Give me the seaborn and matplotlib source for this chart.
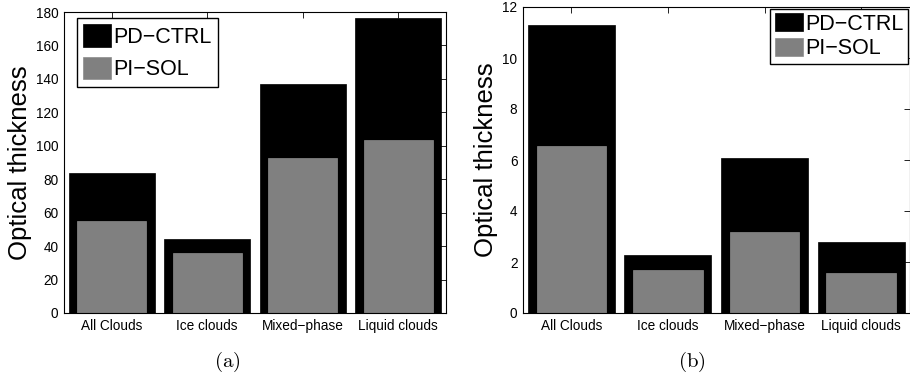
import matplotlib
matplotlib.use('Agg')
import matplotlib.pyplot as plt
import seaborn as sns
import numpy as np

# data
categories = ['All Clouds', 'Ice clouds', 'Mixed\u2212phase', 'Liquid clouds']
pd_ctrl_a = [83.5, 44.5, 137, 176.5]
pi_sol_a = [55, 36, 92.5, 103.5]
pd_ctrl_b = [11.3, 2.27, 6.07, 2.8]
pi_sol_b = [6.55, 1.68, 3.17, 1.58]
yticks_a = list(range(0, 181, 20))
yticks_b = list(range(0, 13, 2))

sns.set_style('white')
plt.rcParams['font.family'] = ['Liberation Sans', 'DejaVu Sans']
plt.rcParams['mathtext.fontset'] = 'cm'
for k in ['text.color', 'axes.labelcolor', 'xtick.color', 'ytick.color']:
    plt.rcParams[k] = 'black'

fig = plt.figure(figsize=(9.1, 3.86), dpi=100)
ax_a = fig.add_axes([64 / 910, 73 / 386, 382 / 910, 301 / 386])
ax_b = fig.add_axes([523 / 910, 73 / 386, 386.5 / 910, 306 / 386])


def draw_panel(ax, ctrl, sol, yticks):
    sns.barplot(x=categories, y=ctrl, color='black', width=0.9, saturation=1,
                edgecolor='black', linewidth=0.5, label='PD\u2212CTRL', ax=ax)
    sns.barplot(x=categories, y=sol, color='#808080', width=0.72, saturation=1,
                edgecolor='#8c8c8c', linewidth=0.5, label='PI\u2212SOL', ax=ax)
    ax.set_xlim(-0.5, 3.5)
    ax.set_ylim(yticks[0], yticks[-1])
    ax.set_yticks(yticks)
    ax.set_ylabel('Optical thickness', fontsize=18.5, labelpad=3)
    ax.set_xlabel('')
    ax.tick_params(direction='in', top=True, right=True, length=4, width=0.6,
                   labelsize=9.8, pad=4, color='black')
    for s in ax.spines.values():
        s.set_visible(True)
        s.set_color('black')
        s.set_linewidth(0.8)


draw_panel(ax_a, pd_ctrl_a, pi_sol_a, yticks_a)
draw_panel(ax_b, pd_ctrl_b, pi_sol_b, yticks_b)

leg_a = ax_a.legend(loc='upper left', bbox_to_anchor=(0.034, 0.98), fontsize=15.5,
                    frameon=True, fancybox=False, edgecolor='black', framealpha=1,
                    handlelength=1.3, handleheight=1.25, handletextpad=0.1,
                    labelspacing=0.4, borderpad=0.3, borderaxespad=0)
leg_a.get_frame().set_linewidth(1.0)
leg_b = ax_b.legend(loc='upper right', bbox_to_anchor=(0.995, 0.993), fontsize=15.5,
                    frameon=True, fancybox=False, edgecolor='black', framealpha=1,
                    handlelength=1.3, handleheight=0.9, handletextpad=0.1,
                    labelspacing=0.15, borderpad=0.2, borderaxespad=0)
leg_b.get_frame().set_linewidth(1.0)

fig.text(227 / 910, 1 - 362 / 386, r'$\mathrm{(a)}$', ha='center', va='center', fontsize=15)
fig.text(692 / 910, 1 - 362 / 386, r'$\mathrm{(b)}$', ha='center', va='center', fontsize=15)

fig.savefig('out.png', dpi=100)
